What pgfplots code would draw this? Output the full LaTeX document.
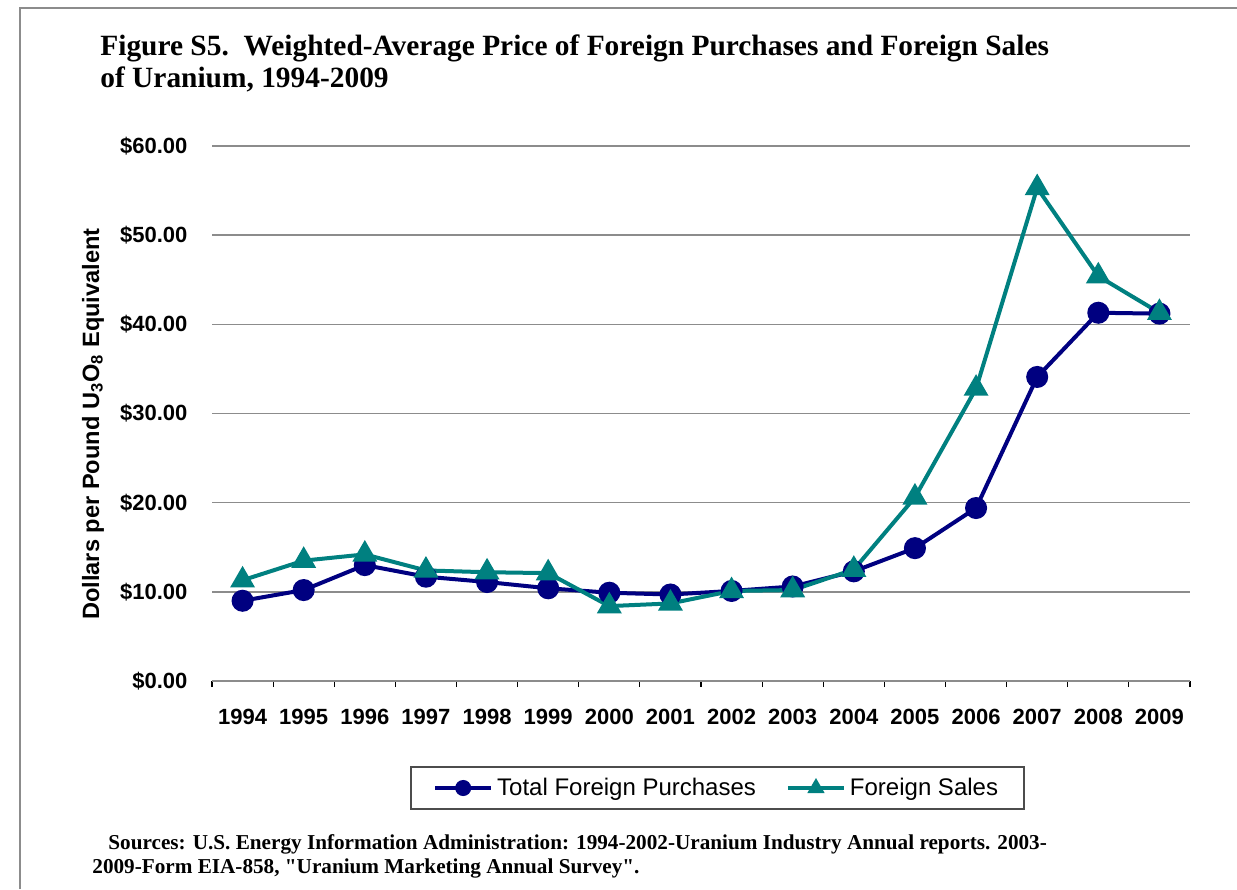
\documentclass[border=0pt]{standalone}
\usepackage{fontspec}
\setmainfont{Liberation Serif}
\setsansfont{Liberation Sans}
\usepackage{pgfplots}
\pgfplotsset{compat=1.18}
\definecolor{purch}{HTML}{000080}
\definecolor{sales}{HTML}{008080}
\definecolor{gridg}{HTML}{8C8C8C}
\begin{document}
\begin{tikzpicture}
\useasboundingbox (0,0) rectangle (618.5pt,-444.5pt);
\fill[white] (0,0) rectangle (618.5pt,-444.5pt);
% outer frame
\draw[gridg, line width=1pt] (10pt,-444.5pt) -- (10pt,-4pt) -- (618.5pt,-4pt);
% title
\node[anchor=base west, inner sep=0pt, font=\fontsize{14.7}{17}\selectfont\bfseries] at (50pt,-27.5pt) {Figure S5.\ \ Weighted-Average Price of Foreign Purchases and Foreign Sales};
\node[anchor=base west, inner sep=0pt, font=\fontsize{14.7}{17}\selectfont\bfseries] at (50pt,-43.5pt) {of Uranium, 1994-2009};
% y label
\node[rotate=90, inner sep=0pt, font=\fontsize{11.8}{13}\selectfont\sffamily\bfseries] at (46.5pt,-212pt) {Dollars per Pound U\textsubscript{3}O\textsubscript{8} Equivalent};
% sources
\node[anchor=base west, inner sep=0pt, font=\fontsize{10.6}{12}\selectfont\bfseries] at (54pt,-424.5pt) {Sources: U.S. Energy Information Administration: 1994-2002-Uranium Industry Annual reports. 2003-};
\node[anchor=base west, inner sep=0pt, font=\fontsize{10.6}{12}\selectfont\bfseries] at (46pt,-436.5pt) {2009-Form EIA-858, \textquotedbl Uranium Marketing Annual Survey\textquotedbl.};
\begin{axis}[
  at={(106pt,-340.5pt)}, anchor=south west,
  scale only axis, width=489pt, height=267.5pt,
  xmin=-0.5, xmax=15.5, ymin=0, ymax=60,
  axis x line*=bottom, axis y line*=left,
  y axis line style={draw=none},
  x axis line style={gridg, line width=0.8pt, -},
  xtick={0,...,15},
  xticklabels={1994,1995,1996,1997,1998,1999,2000,2001,2002,2003,2004,2005,2006,2007,2008,2009},
  major x tick style={draw=none},
  minor xtick={-0.5,0.5,...,15.5},
  minor tick length=3pt,
  minor x tick style={black, line width=0.6pt},
  tick align=outside,
  ytick={0,10,...,60},
  yticklabels={\$0.00,\$10.00,\$20.00,\$30.00,\$40.00,\$50.00,\$60.00},
  major y tick style={draw=none},
  ymajorgrids, grid style={gridg, line width=0.8pt},
  yticklabel style={font=\fontsize{11}{13}\selectfont\sffamily\bfseries, xshift=-4.5pt},
  xticklabel style={font=\fontsize{11}{13}\selectfont\sffamily\bfseries, yshift=-6.5pt},
  clip=false,
  legend columns=2,
  legend style={at={(0.517,-0.2)}, anchor=center, draw=black!70, line width=0.8pt,
    font=\fontsize{12}{14}\selectfont\sffamily, inner xsep=11pt, inner ysep=3.5pt,
    /tikz/every even column/.append style={column sep=13pt}},
  legend image code/.code={\draw[mark repeat=2,mark phase=2, mark size=3pt] plot coordinates {(0pt,0pt)(14pt,0pt)(28pt,0pt)};},
]
\addplot[purch, line width=2pt, mark=*, mark size=4.5pt, mark options={solid}] coordinates {
(0,9.0) (1,10.2) (2,13.0) (3,11.7) (4,11.1) (5,10.4) (6,9.9) (7,9.7) (8,10.1) (9,10.6) (10,12.3) (11,14.9) (12,19.4) (13,34.1) (14,41.3) (15,41.2)};
\addlegendentry{Total Foreign Purchases}
\addplot[sales, line width=2pt, mark=triangle*, mark size=5.2pt, mark options={solid}] coordinates {
(0,11.3) (1,13.5) (2,14.2) (3,12.4) (4,12.2) (5,12.1) (6,8.4) (7,8.7) (8,10.1) (9,10.2) (10,12.5) (11,20.6) (12,32.8) (13,55.3) (14,45.4) (15,41.3)};
\addlegendentry{Foreign Sales}
\end{axis}
\end{tikzpicture}
\end{document}
